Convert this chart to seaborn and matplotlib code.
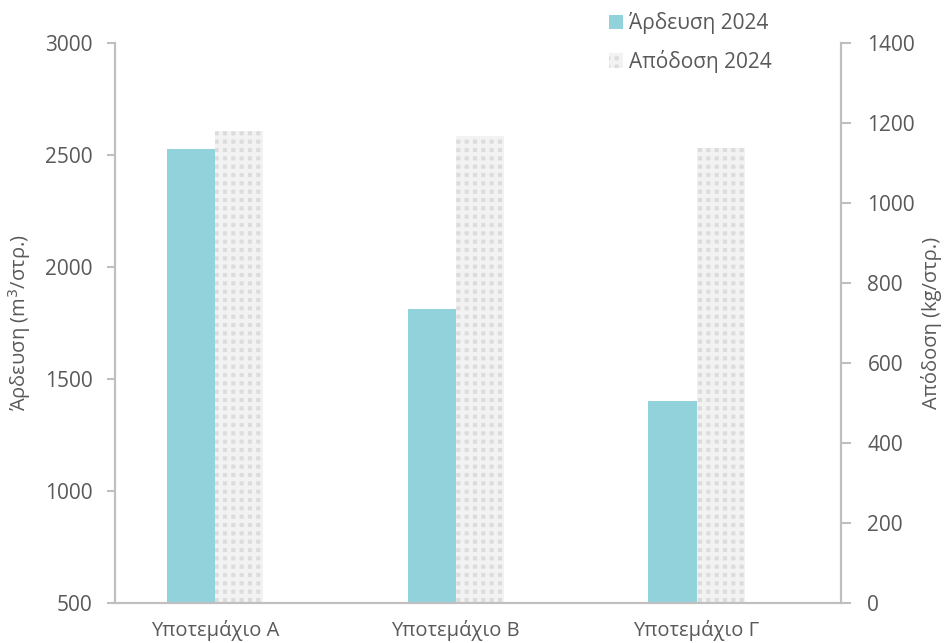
import numpy as np
import pandas as pd
import matplotlib.pyplot as plt
import seaborn as sns
from matplotlib.patches import Patch

plots = ['Υποτεμάχιο Α', 'Υποτεμάχιο Β', 'Υποτεμάχιο Γ']
series = ['Άρδευση 2024', 'Απόδοση 2024']
ardeusi = [2527, 1812, 1402]      # m3/στρ.
apodosi = [1180, 1168, 1138]      # kg/στρ.

sns.set_style('white')
plt.rcParams['font.family'] = ['Open Sans', 'DejaVu Sans']
plt.rcParams['hatch.linewidth'] = 3

grey = '#595959'
spine = '#bfbfbf'
teal = '#92d3db'
chk_face = '#dcdcdc'
chk_line = '#f2f2f2'

# each axis gets both series (the other one at 0) so the dodge slots stay put
df_left = pd.DataFrame({'plot': plots * 2,
                        'series': [series[0]] * 3 + [series[1]] * 3,
                        'value': ardeusi + [0, 0, 0]})
df_right = pd.DataFrame({'plot': plots * 2,
                         'series': [series[0]] * 3 + [series[1]] * 3,
                         'value': [0, 0, 0] + apodosi})

fig = plt.figure(figsize=(9.44, 6.43), dpi=100)
ax = fig.add_axes([115/944, 40/643, (841-115)/944, (603-43)/643])
ax2 = ax.twinx()

sns.barplot(data=df_left, x='plot', y='value', hue='series', hue_order=series,
            order=plots, palette=[teal, chk_face], width=0.4, ax=ax,
            legend=False, errorbar=None, saturation=1, linewidth=0)
sns.barplot(data=df_right, x='plot', y='value', hue='series', hue_order=series,
            order=plots, palette=[teal, chk_face], width=0.4, ax=ax2,
            legend=False, errorbar=None, saturation=1, linewidth=0)

for p in ax2.patches:
    p.set_facecolor(chk_face)
    p.set_edgecolor(chk_line)
    p.set_hatch('++')
    p.set_linewidth(0)

ax.set_ylim(500, 3000)
ax.set_yticks(range(500, 3001, 500))
ax2.set_ylim(0, 1400)
ax2.set_yticks(range(0, 1401, 200))
ax.set_xlim(-0.415, 2.6)
ax2.set_xlim(-0.415, 2.6)

for a in (ax, ax2):
    a.spines['top'].set_visible(False)
    for s in ('left', 'right', 'bottom'):
        a.spines[s].set_color(spine)
        a.spines[s].set_linewidth(1.5)
    a.set_xlabel('')

ax.tick_params(axis='y', direction='out', length=6, width=1.5, color=spine,
               labelsize=15, labelcolor=grey, pad=10, left=True)
ax2.tick_params(axis='y', direction='out', length=7, width=1.5, color=spine,
                labelsize=15, labelcolor=grey, pad=12, right=True)
ax.tick_params(axis='x', length=0, labelsize=14.5, labelcolor=grey, pad=12)

ax.set_ylabel('Άρδευση (m$^3$/στρ.)', fontsize=14.5, color=grey, labelpad=9)
ax2.set_ylabel('Απόδοση (kg/στρ.)', fontsize=14.5, color=grey, labelpad=4)

handles = [Patch(facecolor=teal, edgecolor='none', label=series[0]),
           Patch(facecolor=chk_face, edgecolor=chk_line, hatch='++',
                 linewidth=0, label=series[1])]
fig.legend(handles=handles, loc='upper left', bbox_to_anchor=(590/944, 1.01),
           frameon=False, fontsize=15, labelcolor=grey, handlelength=0.7,
           handleheight=0.7, handletextpad=0.25, labelspacing=0.75)

fig.savefig('out.png', dpi=100)
